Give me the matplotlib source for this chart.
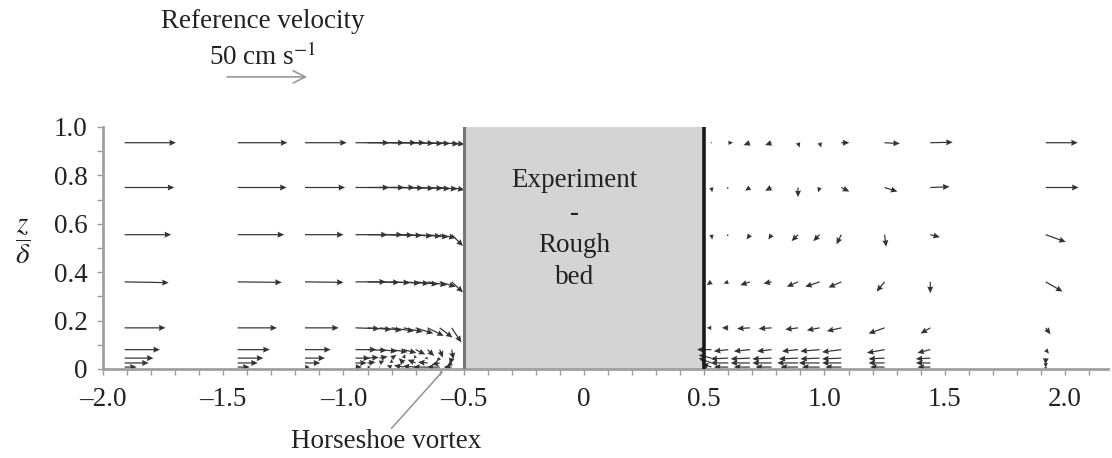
import numpy as np
import matplotlib
matplotlib.use("Agg")
import matplotlib.pyplot as plt
from matplotlib.patches import Rectangle

plt.rcParams['font.family'] = ['Liberation Serif', 'DejaVu Serif']
plt.rcParams['mathtext.fontset'] = 'stix'

# ---------------- data (velocities in cm/s) ----------------
Z_ROWS = [0.935, 0.75, 0.555, 0.36, 0.17, 0.08, 0.045, 0.025, 0.008]

X_LEFT = [-1.91, -1.44, -1.16, -0.95, -0.90, -0.85, -0.80, -0.75,
          -0.70, -0.65, -0.60, -0.55]
U_LEFT = [
    [32, 31, 26, 21, 23, 23, 21, 19, 17, 14, 12, 8],
    [31, 30.5, 25, 21, 23, 22, 20, 19, 17, 14, 11, 8],
    [29, 29, 24, 20, 22, 21, 19, 18, 16, 13, 10, 7],
    [27.5, 27.5, 24, 19, 20, 19, 18, 16, 14, 12, 10, 7],
    [25.5, 24.5, 21, 15, 15, 14, 14, 12, 11, 10, 8, 6],
    [22, 20, 16, 13, 12, 11, 10, 8, 6, 4, 2, 1],
    [18, 16, 12.5, 9, 7, 5, 3, 1, -1, -2, -2, -1],
    [15, 12.5, 9.5, 7, 5, 3, 0, -3, -5, -6, -5, -3],
    [7.5, 7.5, 3, 4, 2, 0, -3, -6, -8, -9, -8, -5],
]
W_LEFT = [
    [0, 0, 0, 0, 0, 0, 0, -0.3, -0.5, -0.5, -0.8, -1],
    [0, 0, 0, 0, 0, 0, -0.3, -0.5, -0.5, -0.8, -1, -1.5],
    [0, 0, 0, 0, 0, -0.3, -0.5, -0.8, -1, -1.5, -2, -7],
    [-0.5, -0.3, -0.3, 0, -0.3, -0.5, -0.8, -1, -1.5, -2, -3, -6.5],
    [0, 0, 0, -0.5, -1, -1.5, -2, -2.5, -3.5, -5, -6, -9],
    [0, 0, 0, 0, -0.5, -1, -1.5, -2, -3, -4, -5, -6],
    [0, 0, 0, 0, 0.5, 1, 2, 2.5, 2, 0, -2, -4],
    [0, 0, 0, 0, 0.5, 1.5, 2.5, 3, 2, 0.5, -1, -2],
    [0, 0, 0, 0, 0, 0.5, 1, 1, 0.5, 0, 0, 0],
]

X_RIGHT = [0.53, 0.60, 0.69, 0.78, 0.89, 0.98, 1.07, 1.25, 1.44, 1.92]
U_RIGHT = [
    [0.5, 3, -4, -4, 1, 1, 5, 9.5, 14, 20],
    [0.5, -1, -3, -4, 0, -1, 5, 8, 12, 20.5],
    [0.5, -1, -2, -2, -4, -4, -3, 1, 6, 12.5],
    [-3, -3, -6, -5, -7, -9, -8, -5, 0, 10.5],
    [-3, -4, -8, -8, -8, -8, -9, -10, -6, 3],
    [-9, -9, -10, -9, -10, -12, -12, -11, -8, 2],
    [-8, -11, -12, -12, -12, -12, -12, -10, -9, 0],
    [-8, -11, -12, -12, -13, -13, -12, -10, -9, 0],
    [-6, -9, -10, -10, -11, -11, -10, -9, -8, 0],
]
W_RIGHT = [
    [0, 0, -1.5, -1.5, -3, -3, 0, -0.5, 0.3, 0],
    [-3, -1, -2, -2, -6, -3, -2.5, -2.5, 0.5, 0],
    [-3, -1, -3, -3, -4, -4, -6, -7.5, -1.5, -4.5],
    [-2, -1, -2, -1, -3, -3, -3.5, -6, -7, -6],
    [0, 0, -0.5, -0.5, -1, -1.5, -2, -3.5, -3.5, -4],
    [0, -1, -1, -1, -1, -1, -1.5, -2, -2, -2.5],
    [2, -0.5, -0.5, -0.5, -0.5, -0.5, -0.5, -0.5, -0.5, -4],
    [3, 0, 0, 0, 0, 0, 0, 0, 0, -3],
    [2, 0, 0, 0, 0, 0, 0, 0, 0, -2],
]

REF_SPEED = 50           # cm/s
SPEED_PER_UNIT = 150     # cm/s per axis unit (quiver scale)

X_TICKS = [-2.0, -1.5, -1.0, -0.5, 0, 0.5, 1.0, 1.5, 2.0]
X_TICK_LABELS = ['–2.0', '–1.5', '–1.0', '–0.5', '0', '0.5', '1.0', '1.5', '2.0']
Y_TICKS = [0, 0.2, 0.4, 0.6, 0.8, 1.0]
Y_TICK_LABELS = ['0', '0.2', '0.4', '0.6', '0.8', '1.0']

# ---------------- figure ----------------
W_PX, H_PX = 1112, 458
fig = plt.figure(figsize=(W_PX / 100, H_PX / 100), dpi=100)
ax = fig.add_axes([103 / W_PX, 89 / H_PX, 1005 / W_PX, 242 / H_PX])
ax.set_xlim(-2.0, 2.179)
ax.set_ylim(0, 1.0)

TXT = '#222222'
FS = 19.5

# obstacle
ax.add_patch(Rectangle((-0.5, 0), 1.0, 1.0, facecolor='#d4d4d4',
                       edgecolor='none', zorder=1))
ax.plot([-0.5, -0.5], [0, 1.0], color='#777777', lw=2.2, zorder=3)
ax.plot([0.5, 0.5], [0, 1.0], color='#1a1a1a', lw=2.6, zorder=3)
ax.text(-0.04, 0.578, 'Experiment\n-\nRough\nbed', ha='center', va='center',
        fontsize=FS, color=TXT, linespacing=1.38, zorder=4)

# vector field
def draw(xs, us, ws):
    X, Zg = np.meshgrid(xs, Z_ROWS)
    ax.quiver(X, Zg, np.array(us, float), np.array(ws, float),
              angles='xy', scale_units='xy', scale=SPEED_PER_UNIT,
              width=0.0012, headwidth=5, headlength=5.5, headaxislength=5,
              color='#333333', zorder=2)

draw(X_LEFT, U_LEFT, W_LEFT)
draw(X_RIGHT, U_RIGHT, W_RIGHT)

# reference arrow
ref_len = REF_SPEED / SPEED_PER_UNIT
x0, yref = -1.484, 1.207
ax.annotate('', xy=(x0 + ref_len, yref), xytext=(x0, yref),
            arrowprops=dict(arrowstyle='->', color='#999999', lw=1.2,
                            shrinkA=0, shrinkB=0, mutation_scale=22),
            annotation_clip=False)
ax.text(-1.335, 1.409, 'Reference velocity', ha='center', va='baseline',
        fontsize=FS, color=TXT, clip_on=False)
ax.text(-1.335, 1.255, r'50 cm s$^{-1}$', ha='center', va='baseline',
        fontsize=FS, color=TXT, clip_on=False)

# horseshoe vortex label
ax.plot([-0.59, -0.80], [-0.012, -0.245], color='#8a8a8a', lw=1.0,
        clip_on=False)
ax.text(-0.823, -0.25, 'Horseshoe vortex', ha='center', va='top',
        fontsize=FS, color=TXT, clip_on=False)

# axes styling
for s in ('top', 'right'):
    ax.spines[s].set_visible(False)
for s in ('left', 'bottom'):
    ax.spines[s].set_color('#a0a0a0')
    ax.spines[s].set_linewidth(2.0)

ax.set_xticks(X_TICKS)
ax.set_xticklabels(X_TICK_LABELS)
ax.set_yticks(Y_TICKS)
ax.set_yticklabels(Y_TICK_LABELS)
ax.set_xticks(np.arange(-2.0, 2.15, 0.1), minor=True)
ax.set_yticks(np.arange(0, 1.01, 0.1), minor=True)
ax.tick_params(axis='both', which='both', direction='out', length=4,
               width=1, color='#999999', labelsize=FS, labelcolor=TXT)
ax.tick_params(axis='x', which='major', pad=9)
ax.tick_params(axis='y', which='major', pad=7)

# y-axis label: z over delta as a single stacked fraction
fig.text(23 / W_PX, 1 - 242 / H_PX, r'$\dfrac{z}{\delta}$', ha='center',
         va='center', rotation=0, fontsize=21, color=TXT)

fig.savefig('out.png', dpi=100)
